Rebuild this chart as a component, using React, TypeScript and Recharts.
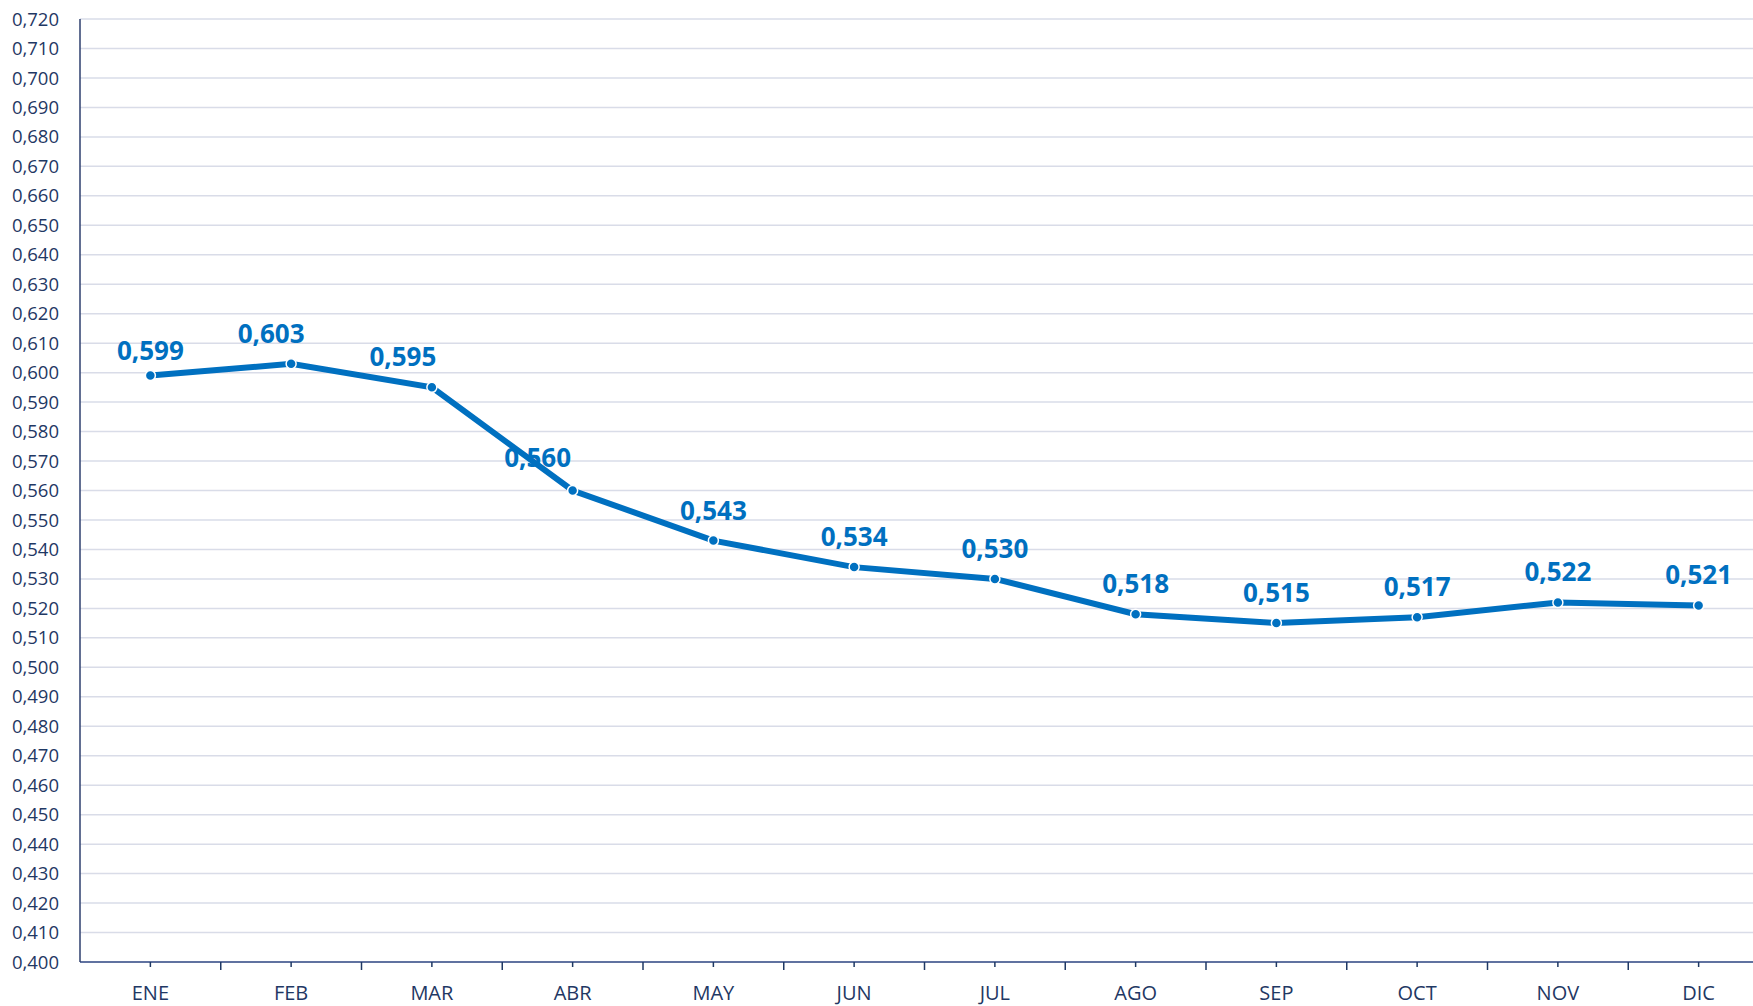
import React from 'react';
import {
  LineChart,
  Line,
  XAxis,
  YAxis,
  CartesianGrid,
  LabelList
} from 'recharts';

const MONTHS = ['ENE', 'FEB', 'MAR', 'ABR', 'MAY', 'JUN', 'JUL', 'AGO', 'SEP', 'OCT', 'NOV', 'DIC'];
const VALUES = [0.599, 0.603, 0.595, 0.56, 0.543, 0.534, 0.53, 0.518, 0.515, 0.517, 0.522, 0.521];

// y ticks every 0.010 from 0.400 to 0.720
const Y_TICKS = Array.from({ length: 33 }, (_, i) => Number((0.4 + i * 0.01).toFixed(2)));
// category centres plus the boundaries between them
const X_TICKS = Array.from({ length: 24 }, (_, i) => i / 2);

// manual nudges of a few data labels (dx, dy), as in the original
const LABEL_NUDGE: Record<number, [number, number]> = {
  0: [0, 5],
  1: [-20, 0],
  2: [-29, 0],
  3: [-35, -3]
};

const BLUE = '#0070C0';
const NAVY = '#1F3864';
const FONT = '"Open Sans", "Noto Sans", sans-serif';

const data = MONTHS.map((month, i) => ({ idx: i, month, value: VALUES[i] }));

const fmt = (v: number) => v.toFixed(3).replace('.', ',');

function MonthTick(props: any) {
  const { x, y, payload } = props;
  const v = payload.value as number;
  if (!Number.isInteger(v)) {
    return <line x1={x} x2={x} y1={y} y2={y + 8} stroke={NAVY} strokeWidth={1.5} />;
  }
  return (
    <g>
      <line x1={x} x2={x} y1={y} y2={y + 5} stroke={NAVY} strokeWidth={1.5} />
      <text x={x} y={y + 38} textAnchor="middle" fill={NAVY} fontSize={20} fontFamily={FONT}>
        {MONTHS[v]}
      </text>
    </g>
  );
}

function ValueLabel(props: any) {
  const { x, y, value, index } = props;
  const [dx, dy] = LABEL_NUDGE[index] ?? [0, 0];
  return (
    <text
      x={x + dx}
      y={y - 21 + dy}
      textAnchor="middle"
      fill={BLUE}
      fontSize={26}
      fontWeight={700}
      fontFamily={FONT}
    >
      {fmt(value)}
    </text>
  );
}

export default function App() {
  return (
    <div
      style={{
        position: 'fixed',
        left: 0,
        top: 0,
        width: 1753,
        height: 1006,
        overflow: 'hidden',
        background: '#fff'
      }}
    >
      <LineChart width={1769} height={1006} data={data} margin={{ top: 19, right: 0, left: 0, bottom: 0 }}>
        <CartesianGrid vertical={false} stroke="#D9DCE8" strokeWidth={1.5} />
        <XAxis
          dataKey="idx"
          type="number"
          domain={[-0.5, 11.5]}
          ticks={X_TICKS}
          interval={0}
          height={44}
          tickLine={false}
          tickSize={0}
          tickMargin={0}
          axisLine={{ stroke: '#6072A0', strokeWidth: 2 }}
          tick={<MonthTick />}
        />
        <YAxis
          type="number"
          domain={[0.4, 0.72]}
          ticks={Y_TICKS}
          interval={0}
          width={80}
          tickLine={false}
          tickSize={0}
          tickMargin={21}
          tickFormatter={fmt}
          tick={{ fill: NAVY, fontSize: 18.5, fontFamily: FONT }}
          axisLine={{ stroke: '#2E3F6E', strokeWidth: 1.5 }}
        />
        <Line
          dataKey="value"
          stroke={BLUE}
          strokeWidth={6}
          dot={{ r: 5, fill: BLUE, stroke: '#fff', strokeWidth: 1.5 }}
          isAnimationActive={false}
        >
          <LabelList dataKey="value" content={<ValueLabel />} />
        </Line>
      </LineChart>
    </div>
  );
}
